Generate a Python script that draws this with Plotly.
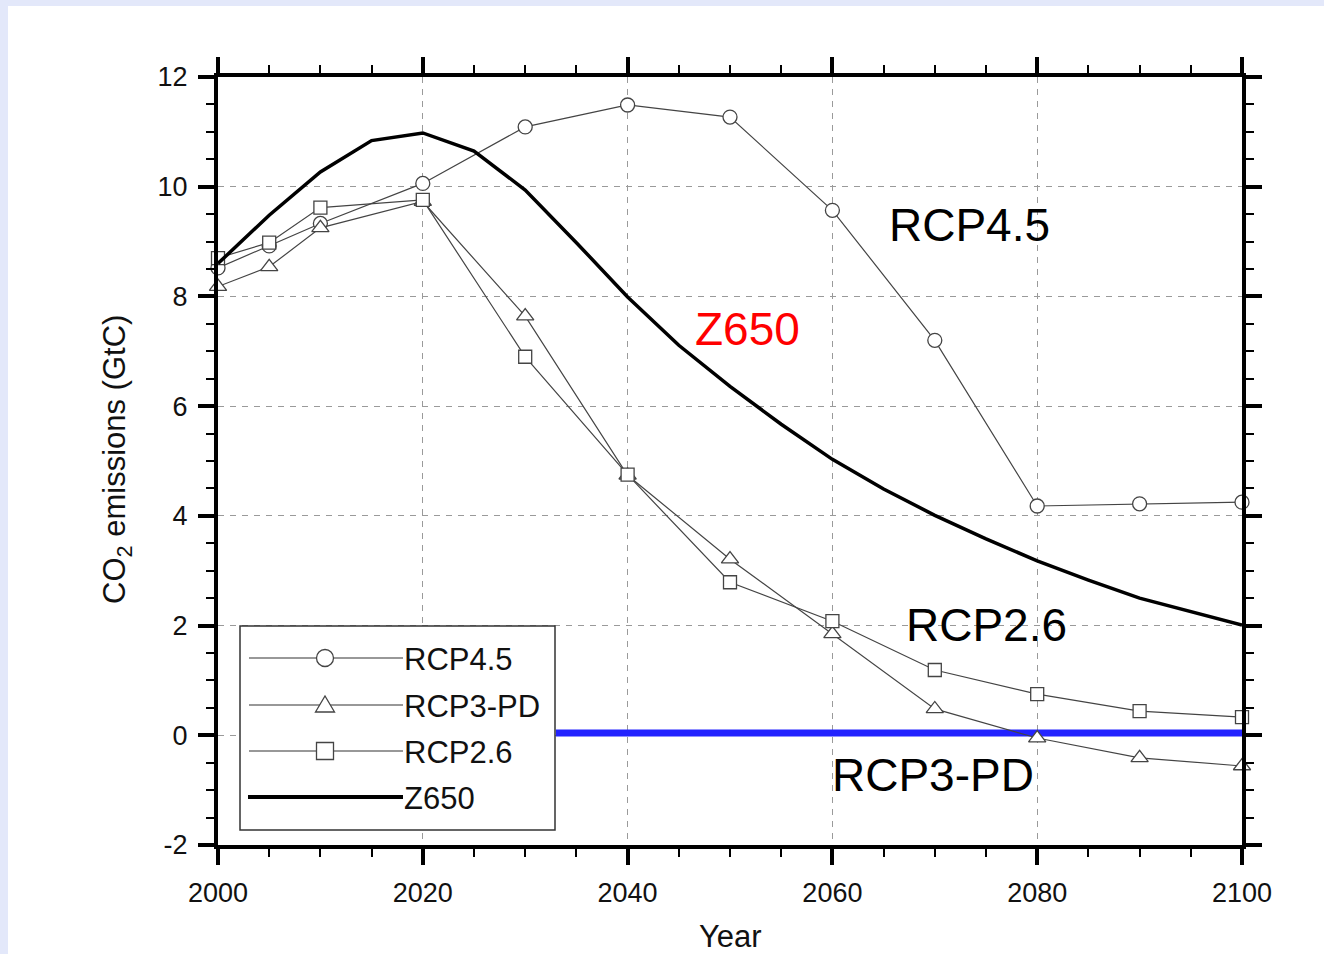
import plotly.graph_objects as go

# ---------------- data ----------------
YEARS_RCP = [2000, 2005, 2010, 2020, 2030, 2040, 2050, 2060, 2070, 2080, 2090, 2100]
RCP45 = [8.52, 8.92, 9.33, 10.06, 11.09, 11.49, 11.27, 9.57, 7.20, 4.18, 4.22, 4.25]
RCP3PD = [8.18, 8.54, 9.25, 9.73, 7.64, 4.74, 3.21, 1.85, 0.48, -0.05, -0.41, -0.56]
RCP26 = [8.70, 8.98, 9.62, 9.76, 6.90, 4.75, 2.79, 2.08, 1.19, 0.75, 0.44, 0.33]
YEARS_Z650 = [2000, 2005, 2010, 2015, 2020, 2025, 2030, 2035, 2040, 2045, 2050,
              2055, 2060, 2065, 2070, 2075, 2080, 2085, 2090, 2095, 2100]
Z650 = [8.60, 9.48, 10.27, 10.84, 10.98, 10.65, 9.94, 8.98, 7.99, 7.11, 6.36,
        5.67, 5.03, 4.49, 4.01, 3.58, 3.18, 2.83, 2.50, 2.25, 2.01]
YEARS_BLUE = [2033, 2100]
BLUE = [0.04, 0.04]

X_TICKS = [2000, 2020, 2040, 2060, 2080, 2100]
X_TICK_TEXT = ["2000", "2020", "2040", "2060", "2080", "2100"]
Y_TICKS = [-2, 0, 2, 4, 6, 8, 10, 12]
Y_TICK_TEXT = ["-2", "0", "2", "4", "6", "8", "10", "12"]

LABELS = ["RCP4.5", "RCP3-PD", "RCP2.6", "Z650"]
X_TITLE = "Year"
Y_TITLE = "CO<sub>2</sub> emissions (GtC)"

# ---------------- geometry helpers (pixels -> paper) ----------------
W, H = 1324, 954
L, R, T, B = 218, 1242, 77, 845


def xp(px):
    return (px - L) / (R - L)


def yp(py):
    return (B - py) / (B - T)


FONT = "Liberation Sans, Arial, Helvetica, sans-serif"
GREY = "#444444"

fig = go.Figure()

fig.add_trace(go.Scatter(x=YEARS_BLUE, y=BLUE, mode="lines",
                         line=dict(color="#2323ff", width=7), showlegend=False,
                         hoverinfo="skip"))

marker_common = dict(color="white", line=dict(color=GREY, width=1.3))
fig.add_trace(go.Scatter(x=YEARS_RCP, y=RCP45, mode="lines+markers", name=LABELS[0],
                         line=dict(color=GREY, width=1.2),
                         marker=dict(symbol="circle", size=14, **marker_common),
                         cliponaxis=False, showlegend=False))
fig.add_trace(go.Scatter(x=YEARS_RCP, y=RCP3PD, mode="lines+markers", name=LABELS[1],
                         line=dict(color=GREY, width=1.2),
                         marker=dict(symbol="triangle-up", size=15, **marker_common),
                         cliponaxis=False, showlegend=False))
fig.add_trace(go.Scatter(x=YEARS_RCP, y=RCP26, mode="lines+markers", name=LABELS[2],
                         line=dict(color=GREY, width=1.2),
                         marker=dict(symbol="square", size=13, **marker_common),
                         cliponaxis=False, showlegend=False))
fig.add_trace(go.Scatter(x=YEARS_Z650, y=Z650, mode="lines", name=LABELS[3],
                         line=dict(color="black", width=3.5),
                         cliponaxis=False, showlegend=False))

axis_common = dict(
    showline=True, linecolor="black", linewidth=4, mirror="allticks",
    ticks="outside", ticklen=16, tickwidth=4, tickcolor="black",
    showgrid=True, gridcolor="#9a9a9a", gridwidth=1.3, griddash="6px,6px",
    zeroline=False, tickfont=dict(size=27, color="#111111", family=FONT),
    ticklabelstandoff=5, automargin=False,
)

fig.update_xaxes(range=[2000, 2100], tickvals=X_TICKS, ticktext=X_TICK_TEXT,
                 minor=dict(dtick=5, tick0=2000, ticklen=8, tickwidth=2,
                            ticks="outside", tickcolor="black", showgrid=False),
                 **axis_common)
fig.update_yaxes(range=[-2, 12], tickvals=Y_TICKS, ticktext=Y_TICK_TEXT,
                 minor=dict(dtick=0.5, tick0=0, ticklen=8, tickwidth=2,
                            ticks="outside", tickcolor="black", showgrid=False),
                 **axis_common)

shapes = []
# white page over lavender frame
shapes.append(dict(type="rect", xref="paper", yref="paper", layer="below",
                   x0=xp(8), x1=xp(W + 5), y0=yp(6), y1=yp(H + 5),
                   fillcolor="white", line=dict(width=0)))

# manual legend box
shapes.append(dict(type="rect", xref="paper", yref="paper", layer="above",
                   x0=xp(240), x1=xp(555), y0=yp(830), y1=yp(626),
                   fillcolor="white", line=dict(color="#333333", width=1.5)))
rows = [658, 705, 751, 797]
mx = 325
for i, ry in enumerate(rows):
    if i < 3:
        shapes.append(dict(type="line", xref="paper", yref="paper", layer="above",
                           x0=xp(249), x1=xp(403), y0=yp(ry), y1=yp(ry),
                           line=dict(color="#333333", width=1.2)))
    else:
        shapes.append(dict(type="line", xref="paper", yref="paper", layer="above",
                           x0=xp(248), x1=xp(403), y0=yp(ry), y1=yp(ry),
                           line=dict(color="black", width=4)))
r = 8.5
shapes.append(dict(type="circle", xref="paper", yref="paper", layer="above",
                   x0=xp(mx - r), x1=xp(mx + r), y0=yp(rows[0] + r), y1=yp(rows[0] - r),
                   fillcolor="white", line=dict(color=GREY, width=1.3)))
ty = rows[1]
tri = "M {a},{b} L {c},{d} L {e},{f} Z".format(
    a=xp(mx - 9.5), b=yp(ty + 7), c=xp(mx + 9.5), d=yp(ty + 7), e=xp(mx), f=yp(ty - 9))
shapes.append(dict(type="path", xref="paper", yref="paper", layer="above", path=tri,
                   fillcolor="white", line=dict(color=GREY, width=1.3)))
s = 8.5
shapes.append(dict(type="rect", xref="paper", yref="paper", layer="above",
                   x0=xp(mx - s), x1=xp(mx + s), y0=yp(rows[2] + s), y1=yp(rows[2] - s),
                   fillcolor="white", line=dict(color=GREY, width=1.3)))

annotations = []
for lab, ry in zip(LABELS, rows):
    annotations.append(dict(x=xp(402), y=yp(ry + 1), xref="paper", yref="paper",
                            text=lab, showarrow=False, xanchor="left", yanchor="middle",
                            font=dict(size=31, color="#111111", family=FONT)))

# axis titles
annotations.append(dict(x=xp(730), y=yp(936), xref="paper", yref="paper",
                        text=X_TITLE, showarrow=False, xanchor="center", yanchor="middle",
                        font=dict(size=31, color="#111111", family=FONT)))
annotations.append(dict(x=xp(117), y=yp(460), xref="paper", yref="paper",
                        text=Y_TITLE, showarrow=False, textangle=-90,
                        xanchor="center", yanchor="middle",
                        font=dict(size=31, color="#111111", family=FONT)))

# in-plot labels
big = dict(size=46, family=FONT)
annotations += [
    dict(x=2073.4, y=9.30, xref="x", yref="y", text="RCP4.5", showarrow=False,
         font=dict(color="black", **big)),
    dict(x=2051.7, y=7.41, xref="x", yref="y", text="Z650", showarrow=False,
         font=dict(color="red", **big)),
    dict(x=2075.0, y=2.01, xref="x", yref="y", text="RCP2.6", showarrow=False,
         font=dict(color="black", **big)),
    dict(x=2069.8, y=-0.72, xref="x", yref="y", text="RCP3-PD", showarrow=False,
         font=dict(color="black", **big)),
]

fig.update_layout(
    width=W, height=H,
    margin=dict(l=L, r=W - R, t=T, b=H - B, pad=0, autoexpand=False),
    paper_bgcolor="#e3e8fa", plot_bgcolor="white",
    font=dict(family=FONT, color="#111111"),
    shapes=shapes, annotations=annotations, showlegend=False,
)

fig.write_html("out.html")
